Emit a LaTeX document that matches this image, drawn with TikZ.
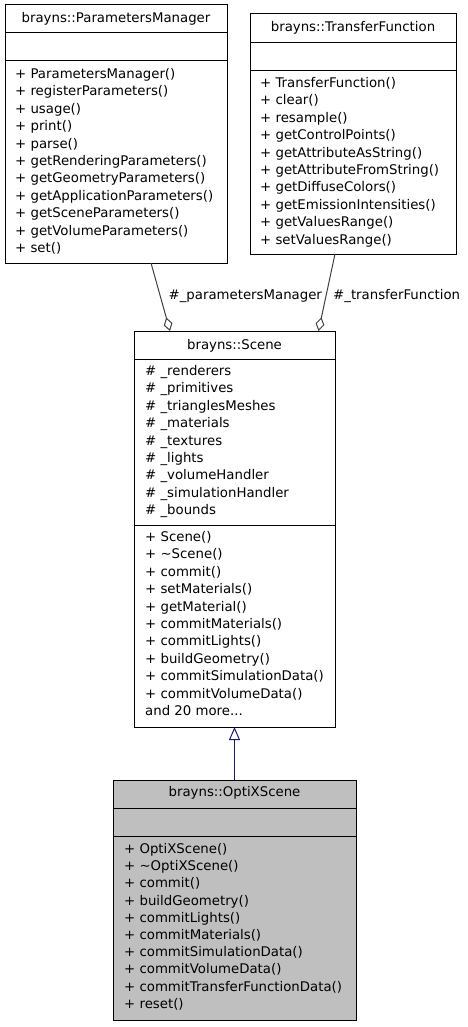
\documentclass[tikz,border=0pt]{standalone}
\usepackage{fontspec}
\setmainfont{DejaVu Sans}
\usetikzlibrary{arrows.meta}
\definecolor{edgegray}{RGB}{64,64,64}
\definecolor{inhblue}{RGB}{25,25,112}
\definecolor{hilite}{RGB}{191,191,191}
\newcommand\andmoretxt{and 20 more...}
\begin{document}
\begin{tikzpicture}[x=1pt,y=-1pt,
  classbox/.style={draw=black,line width=1pt,outer sep=0pt,inner sep=0pt,anchor=north west},
  txt/.style={anchor=base west,inner sep=0pt,font=\fontsize{13.3}{16}\selectfont},
  ttl/.style={anchor=base,inner sep=0pt,font=\fontsize{13.3}{16}\selectfont},
  sepline/.style={draw=black,line width=1pt},
  aggr/.style={draw=edgegray,line width=1pt,{Diamond[open,length=14pt,width=9pt,line width=1pt]}-},
  inh/.style={draw=inhblue,line width=1pt,{Triangle[open,length=13pt,width=11pt,line width=1pt]}-}]
\useasboundingbox (0,0) rectangle (467,1027);
\fill[white] (0,0) rectangle (467,1027);

% ParametersManager
\node[classbox,minimum width=222pt,minimum height=258pt] (pm) at (5,5) {};
\draw[sepline] (pm.west |- 0,33) -- (pm.east |- 0,33);
\draw[sepline] (pm.west |- 0,61) -- (pm.east |- 0,61);
\node[ttl] (pmt) at (116,22.7) {brayns::ParametersManager};
\foreach \t [count=\i from 0] in {+ ParametersManager(),+ registerParameters(),+ usage(),+ print(),+ parse(),+ getRenderingParameters(),+ getGeometryParameters(),+ getApplicationParameters(),+ getSceneParameters(),+ getVolumeParameters(),+ set()}
  \node[txt] (pm-\i) at (15,78.5+17.4*\i) {\t};

% TransferFunction
\node[classbox,minimum width=206pt,minimum height=240pt] (tf) at (250,14) {};
\draw[sepline] (tf.west |- 0,43) -- (tf.east |- 0,43);
\draw[sepline] (tf.west |- 0,71) -- (tf.east |- 0,71);
\node[ttl] (tft) at (353,31.5) {brayns::TransferFunction};
\foreach \t [count=\i from 0] in {+ TransferFunction(),+ clear(),+ resample(),+ getControlPoints(),+ getAttributeAsString(),+ getAttributeFromString(),+ getDiffuseColors(),+ getEmissionIntensities(),+ getValuesRange(),+ setValuesRange()}
  \node[txt] (tf-\i) at (260,87.5+17.4*\i) {\t};

% Scene
\node[classbox,minimum width=201pt,minimum height=396pt] (sc) at (134,331) {};
\draw[sepline] (sc.west |- 0,359) -- (sc.east |- 0,359);
\draw[sepline] (sc.west |- 0,525) -- (sc.east |- 0,525);
\node[ttl] (sct) at (234.5,349.5) {brayns::Scene};
\foreach \t [count=\i from 0] in {\# \_renderers,\# \_primitives,\# \_trianglesMeshes,\# \_materials,\# \_textures,\# \_lights,\# \_volumeHandler,\# \_simulationHandler,\# \_bounds}
  \node[txt] (sca-\i) at (145,375.5+17.4*\i) {\t};
\foreach \t [count=\i from 0] in {+ Scene(),+ \textasciitilde Scene(),+ commit(),+ setMaterials(),+ getMaterial(),+ commitMaterials(),+ commitLights(),+ buildGeometry(),+ commitSimulationData(),+ commitVolumeData(),\andmoretxt}
  \node[txt] (scm-\i) at (145,541.5+17.4*\i) {\t};

% OptiXScene
\node[classbox,fill=hilite,minimum width=243pt,minimum height=240pt] (ox) at (113,780) {};
\draw[sepline] (ox.west |- 0,808) -- (ox.east |- 0,808);
\draw[sepline] (ox.west |- 0,836) -- (ox.east |- 0,836);
\node[ttl] (oxt) at (234.5,796.5) {brayns::OptiXScene};
\foreach \t [count=\i from 0] in {+ OptiXScene(),+ \textasciitilde OptiXScene(),+ commit(),+ buildGeometry(),+ commitLights(),+ commitMaterials(),+ commitSimulationData(),+ commitVolumeData(),+ commitTransferFunctionData(),+ reset()}
  \node[txt] (ox-\i) at (124,853.5+17.2*\i) {\t};

% connectors
\coordinate (pmS) at (151,263);
\coordinate (scA) at (170,331);
\coordinate (tfS) at (335,254);
\coordinate (scB) at (318.5,331);
\coordinate (oxN) at (234.5,780);
\coordinate (scS) at (234.5,727);
\draw[aggr] (scA) -- (pmS);
\draw[aggr] (scB) -- (tfS);
\draw[inh] (scS) -- (oxN);
\node[txt] (lpm) at (168.5,299.5) {\#\_parametersManager};
\node[txt] (ltf) at (333,299.5) {\#\_transferFunction};
\end{tikzpicture}
\end{document}
